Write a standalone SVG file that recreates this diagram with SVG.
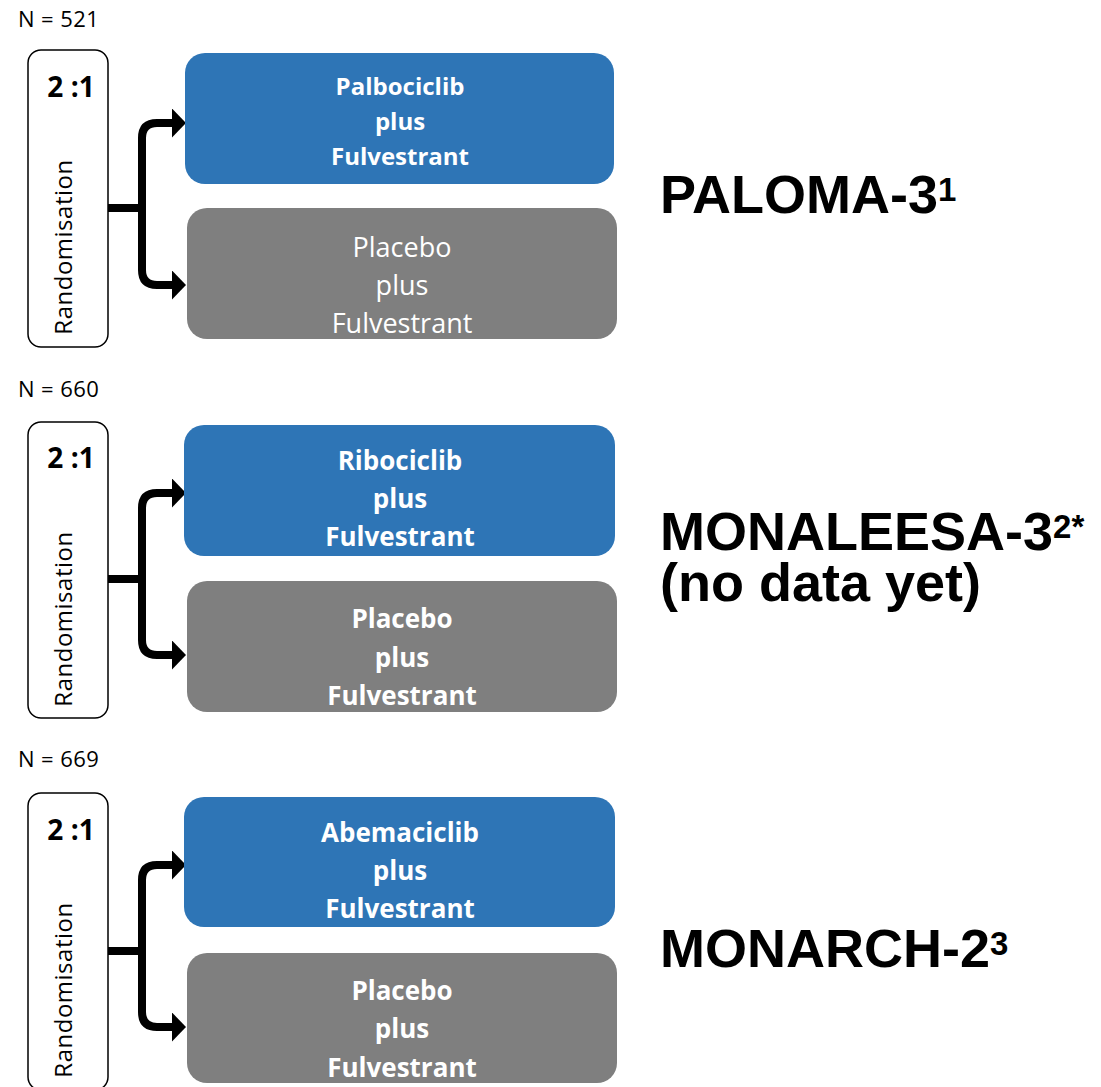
<svg xmlns="http://www.w3.org/2000/svg" width="1101" height="1087" viewBox="0 0 1101 1087">
<style>
.n{font-family:"Open Sans","Liberation Sans",sans-serif;font-size:22px;letter-spacing:0.4px;fill:#000}
.rbox{fill:#fff;stroke:#000;stroke-width:1.5}
.ratio{font-family:"Open Sans","Liberation Sans",sans-serif;font-size:28px;font-weight:bold;text-anchor:middle;fill:#000}
.rand{font-family:"Open Sans","Liberation Sans",sans-serif;font-size:24px;letter-spacing:0.5px;text-anchor:middle;fill:#000}
.blue{fill:#2E75B6}
.gray{fill:#7F7F7F}
.bt{font-family:"Open Sans","Liberation Sans",sans-serif;font-weight:bold;text-anchor:middle;fill:#fff}
.rt{font-family:"Open Sans","Liberation Sans",sans-serif;text-anchor:middle;fill:#fff}
.title{font-family:"Liberation Sans",Arial,sans-serif;font-weight:bold;font-size:54px;fill:#000}
.sup{font-size:33px}
.conn{fill:none;stroke:#000;stroke-width:8}
</style>
<defs>
<marker id="ah" viewBox="0 0 14 29" refX="0" refY="14.5" markerWidth="14" markerHeight="29" orient="auto" markerUnits="userSpaceOnUse">
<path d="M0,0 L14,14.5 L0,29 Z" fill="#000"/>
</marker>
</defs>

<g id="connectors">
<path class="conn" d="M108,208 H142" />
<path class="conn" d="M142,208 V138 Q142,123 157,123 H172" marker-end="url(#ah)"/>
<path class="conn" d="M142,208 V270 Q142,285 157,285 H172" marker-end="url(#ah)"/>
<path class="conn" d="M108,579 H142" />
<path class="conn" d="M142,579 V508 Q142,493 157,493 H172" marker-end="url(#ah)"/>
<path class="conn" d="M142,579 V640 Q142,655 157,655 H172" marker-end="url(#ah)"/>
<path class="conn" d="M108,951 H142" />
<path class="conn" d="M142,951 V880 Q142,865 157,865 H172" marker-end="url(#ah)"/>
<path class="conn" d="M142,951 V1012 Q142,1027 157,1027 H172" marker-end="url(#ah)"/>
</g>

<!-- Section 1 -->
<g id="n1"><text class="n" x="18" y="27">N = 521</text></g>
<g id="rand1">
<rect class="rbox" x="28" y="50" width="80" height="297" rx="13"/>
<text class="ratio" x="71" y="97">2 :1</text>
<text class="rand" transform="translate(72,247) rotate(-90)">Randomisation</text>
</g>
<g id="palbo">
<rect class="blue" x="185" y="53" width="429" height="131" rx="20"/>
<text class="bt" font-size="24" x="400" y="95">Palbociclib</text>
<text class="bt" font-size="24" x="400" y="130">plus</text>
<text class="bt" font-size="24" x="400" y="165">Fulvestrant</text>
</g>
<g id="placebo1">
<rect class="gray" x="187" y="208" width="430" height="131" rx="20"/>
<text class="rt" font-size="27" x="402" y="257">Placebo</text>
<text class="rt" font-size="27" x="402" y="295">plus</text>
<text class="rt" font-size="27" x="402" y="333">Fulvestrant</text>
</g>
<g id="title1"><text class="title" x="660" y="213">PALOMA-3<tspan class="sup" dy="-12">1</tspan></text></g>

<!-- Section 2 -->
<g id="n2"><text class="n" x="18" y="397">N = 660</text></g>
<g id="rand2">
<rect class="rbox" x="28" y="422" width="80" height="296" rx="13"/>
<text class="ratio" x="71" y="468">2 :1</text>
<text class="rand" transform="translate(72,619) rotate(-90)">Randomisation</text>
</g>
<g id="ribo">
<rect class="blue" x="184" y="425" width="431" height="131" rx="20"/>
<text class="bt" font-size="26" x="400" y="470">Ribociclib</text>
<text class="bt" font-size="26" x="400" y="508">plus</text>
<text class="bt" font-size="26" x="400" y="546">Fulvestrant</text>
</g>
<g id="placebo2">
<rect class="gray" x="187" y="581" width="430" height="131" rx="20"/>
<text class="bt" font-size="26" x="402" y="628">Placebo</text>
<text class="bt" font-size="26" x="402" y="667">plus</text>
<text class="bt" font-size="26" x="402" y="705">Fulvestrant</text>
</g>
<g id="title2">
<text class="title" x="660" y="550">MONALEESA-3<tspan class="sup" dy="-12">2*</tspan></text>
<text class="title" x="660" y="601">(no data yet)</text>
</g>

<!-- Section 3 -->
<g id="n3"><text class="n" x="18" y="767">N = 669</text></g>
<g id="rand3">
<rect class="rbox" x="28" y="793" width="80" height="297" rx="13"/>
<text class="ratio" x="71" y="840">2 :1</text>
<text class="rand" transform="translate(72,990) rotate(-90)">Randomisation</text>
</g>
<g id="abema">
<rect class="blue" x="184" y="797" width="431" height="130" rx="20"/>
<text class="bt" font-size="26" x="400" y="842">Abemaciclib</text>
<text class="bt" font-size="26" x="400" y="880">plus</text>
<text class="bt" font-size="26" x="400" y="918">Fulvestrant</text>
</g>
<g id="placebo3">
<rect class="gray" x="187" y="953" width="430" height="130" rx="20"/>
<text class="bt" font-size="26" x="402" y="1000">Placebo</text>
<text class="bt" font-size="26" x="402" y="1038">plus</text>
<text class="bt" font-size="26" x="402" y="1077">Fulvestrant</text>
</g>
<g id="title3"><text class="title" x="660" y="967">MONARCH-2<tspan class="sup" dy="-12">3</tspan></text></g>
</svg>
